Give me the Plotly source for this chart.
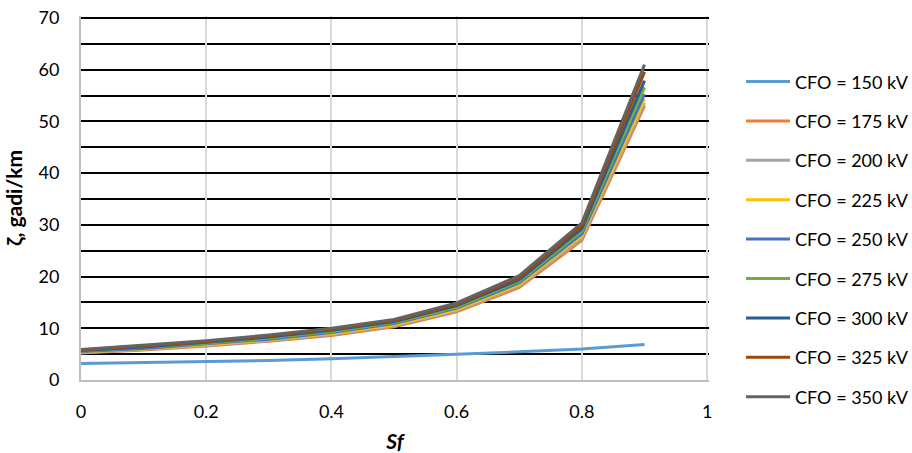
import plotly.graph_objects as go

sf = [0.0, 0.1, 0.2, 0.3, 0.4, 0.5, 0.6, 0.7, 0.8, 0.9]

cfo_150 = [3.2, 3.35, 3.5, 3.75, 4.1, 4.5, 5.0, 5.45, 6.0, 6.85]
cfo_175 = [5.2, 5.8, 6.6, 7.5, 8.6, 10.3, 13.2, 17.9, 27.0, 53.0]
cfo_200 = [5.3, 5.9, 6.7, 7.6, 8.8, 10.5, 13.4, 18.2, 27.4, 53.6]
cfo_225 = [5.4, 6.0, 6.8, 7.8, 9.0, 10.7, 13.6, 18.5, 27.9, 54.3]
cfo_250 = [5.5, 6.1, 7.0, 7.9, 9.2, 10.9, 13.9, 18.8, 28.3, 55.3]
cfo_275 = [5.6, 6.3, 7.1, 8.1, 9.4, 11.1, 14.1, 19.1, 28.8, 56.6]
cfo_300 = [5.7, 6.4, 7.3, 8.3, 9.6, 11.3, 14.4, 19.4, 29.3, 57.9]
cfo_325 = [5.8, 6.6, 7.4, 8.5, 9.8, 11.5, 14.6, 19.8, 29.8, 59.6]
cfo_350 = [5.9, 6.7, 7.6, 8.7, 10.0, 11.7, 14.9, 20.2, 30.4, 61.0]

names = ["CFO = 150 kV", "CFO = 175 kV", "CFO = 200 kV", "CFO = 225 kV",
         "CFO = 250 kV", "CFO = 275 kV", "CFO = 300 kV", "CFO = 325 kV",
         "CFO = 350 kV"]
series = [cfo_150, cfo_175, cfo_200, cfo_225, cfo_250, cfo_275, cfo_300,
          cfo_325, cfo_350]
colors = ["#5B9BD5", "#ED7D31", "#A5A5A5", "#FFC000", "#4472C4", "#70AD47",
          "#255E91", "#9E480E", "#636363"]

FONT = "Lato"

fig = go.Figure()
for i, (n, s, c) in enumerate(zip(names, series, colors)):
    fig.add_trace(go.Scatter(
        x=sf, y=s, name=n, mode="lines",
        line=dict(color=c, width=3),
        legendgroup=f"g{i}",
    ))

fig.update_layout(
    width=912, height=453,
    margin=dict(l=81, r=203, t=16, b=73, autoexpand=False),
    paper_bgcolor="white", plot_bgcolor="white",
    font=dict(family=FONT, size=18, color="#000000"),
    showlegend=True,
    legend=dict(
        x=1.051, xanchor="left", y=0.870, yanchor="top",
        traceorder="grouped", tracegroupgap=13,
        itemwidth=44,
        font=dict(family=FONT, size=18, color="#000000"),
        bgcolor="rgba(0,0,0,0)", borderwidth=0,
    ),
    xaxis=dict(
        range=[0, 1.003], dtick=0.2, tick0=0,
        showgrid=True, gridcolor="#D9D9D9", gridwidth=1.5,
        zeroline=False,
        showline=True, linecolor="#BFBFBF", linewidth=2,
        ticks="", ticklabelstandoff=14,
        tickfont=dict(family=FONT, size=18),
        title=dict(text="<b><i>Sf</i></b>", font=dict(family=FONT, size=21),
                   standoff=19),
    ),
    yaxis=dict(
        range=[0, 70.4], dtick=10, tick0=0,
        showgrid=True, gridcolor="#000000", gridwidth=1.5,
        minor=dict(dtick=5, showgrid=True, gridcolor="#000000", gridwidth=1.5),
        zeroline=False,
        showline=True, linecolor="#BFBFBF", linewidth=2,
        ticks="", ticklabelstandoff=16,
        tickfont=dict(family=FONT, size=18),
        title=dict(text="<b>ζ, gadi/km</b>", font=dict(family=FONT, size=21),
                   standoff=10),
    ),
)

fig.write_html("out.html", config={"displayModeBar": False},
               post_script="document.body.style.margin='0';")
